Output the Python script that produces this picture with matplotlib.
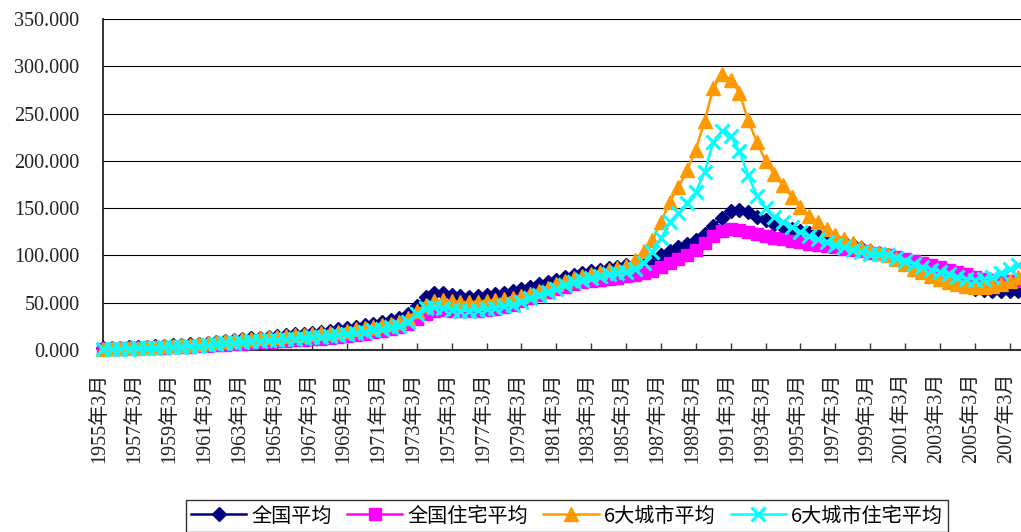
import matplotlib
matplotlib.use("Agg")
import matplotlib.pyplot as plt
import matplotlib.transforms as mtransforms
import numpy as np

plt.rcParams['font.family'] = ['Liberation Serif', 'Noto Sans CJK SC', 'DejaVu Sans']

# Half-yearly observations (March / September), 1955-03 .. 2007-09
years = list(range(1955, 2008))
categories = [f"{y}年{m}月" for y in years for m in (3, 9)]

national_avg = [
    2.0, 2.3, 2.6, 3.0, 3.3, 3.7, 4.0, 4.4, 4.8, 5.3,
    5.9, 6.6, 7.5, 8.5, 9.5, 10.5, 11.4, 12.3, 13.2, 14.2,
    15.0, 15.8, 16.6, 17.4, 18.3, 19.3, 20.5, 21.7, 23.0, 24.5,
    26.2, 28.0, 29.8, 31.6, 33.8, 38.0, 47.0, 56.0, 60.5, 60.5,
    58.5, 57.0, 56.5, 57.0, 58.0, 59.0, 60.5, 62.5, 64.5, 67.0,
    69.5, 72.0, 74.5, 77.0, 79.5, 81.5, 83.5, 85.0, 86.5, 88.0,
    89.5, 91.0, 93.0, 96.0, 100.5, 105.0, 109.0, 112.5, 116.5, 122.5,
    131.0, 140.0, 146.5, 148.5, 146.0, 141.0, 137.0, 133.5, 130.5, 128.0,
    126.0, 124.0, 122.0, 119.5, 117.0, 114.0, 111.0, 108.0, 105.0, 102.5,
    100.0, 97.5, 94.5, 91.0, 87.5, 83.5, 79.5, 75.5, 71.5, 68.0,
    65.0, 63.5, 62.5, 62.0, 62.0, 62.5,
]

national_residential = [
    1.0, 1.2, 1.4, 1.6, 1.8, 2.0, 2.2, 2.5, 2.8, 3.1,
    3.5, 3.9, 4.4, 5.0, 5.6, 6.2, 6.8, 7.4, 8.0, 8.6,
    9.2, 9.7, 10.2, 10.8, 11.4, 12.1, 12.9, 13.8, 14.8, 16.0,
    17.3, 18.8, 20.4, 22.0, 24.0, 27.5, 33.0, 38.5, 41.5, 42.0,
    41.5, 41.0, 41.0, 41.5, 42.5, 43.5, 45.5, 48.0, 51.5, 55.0,
    58.5, 61.5, 64.5, 67.0, 69.5, 71.5, 73.0, 74.5, 75.5, 76.5,
    78.0, 79.5, 81.5, 84.0, 87.5, 92.0, 96.5, 100.5, 105.5, 113.0,
    120.5, 125.5, 127.5, 127.0, 125.0, 122.5, 120.5, 118.5, 117.0, 115.5,
    114.0, 112.5, 111.0, 109.5, 108.5, 107.0, 106.0, 104.5, 103.0, 101.5,
    100.0, 98.5, 96.5, 94.5, 92.5, 90.0, 87.5, 85.0, 82.5, 80.0,
    77.5, 75.5, 74.0, 73.0, 72.5, 72.5,
]

six_cities_avg = [
    1.3, 1.6, 1.9, 2.2, 2.6, 3.0, 3.4, 3.9, 4.4, 5.0,
    5.7, 6.5, 7.4, 8.4, 9.4, 10.4, 11.3, 12.1, 12.9, 13.6,
    14.2, 14.8, 15.4, 16.0, 16.7, 17.5, 18.4, 19.4, 20.5, 21.7,
    23.0, 24.5, 26.0, 27.6, 29.5, 33.5, 41.0, 48.0, 52.0, 52.5,
    51.5, 50.5, 50.5, 51.0, 51.5, 52.5, 53.5, 55.0, 57.0, 59.5,
    62.5, 66.0, 69.5, 73.0, 76.0, 78.5, 80.5, 82.5, 84.5, 86.5,
    89.0, 95.5, 104.5, 116.0, 135.0, 157.0, 172.0, 190.0, 212.0, 242.0,
    277.0, 292.0, 286.0, 272.0, 243.0, 220.0, 200.0, 186.0, 174.0, 162.0,
    151.0, 142.0, 135.0, 128.0, 122.0, 117.0, 113.0, 109.0, 105.5, 102.5,
    100.0, 96.0, 91.0, 86.0, 82.0, 78.0, 75.0, 72.0, 69.5, 68.0,
    67.0, 67.0, 68.0, 70.0, 73.0, 77.0,
]

six_cities_residential = [
    0.8, 1.0, 1.2, 1.5, 1.8, 2.1, 2.4, 2.8, 3.2, 3.6,
    4.1, 4.7, 5.4, 6.1, 6.9, 7.7, 8.5, 9.2, 9.9, 10.5,
    11.1, 11.6, 12.1, 12.7, 13.3, 14.0, 14.8, 15.7, 16.8, 18.0,
    19.4, 20.9, 22.4, 23.8, 25.5, 30.0, 38.5, 44.0, 45.0, 44.0,
    42.5, 41.5, 41.5, 42.0, 43.0, 44.5, 46.0, 48.0, 51.0, 54.5,
    58.0, 61.5, 65.0, 68.5, 71.5, 74.0, 76.0, 78.0, 80.0, 81.5,
    83.0, 86.0, 92.0, 104.0, 118.0, 135.0, 145.0, 155.0, 167.0, 188.0,
    220.0, 232.0, 226.0, 210.0, 185.0, 163.0, 150.0, 141.0, 135.0, 130.0,
    125.0, 121.0, 117.0, 114.0, 111.0, 108.5, 106.0, 104.0, 102.0, 101.0,
    100.0, 97.0, 94.0, 91.0, 88.0, 85.0, 83.0, 80.0, 77.5, 75.5,
    74.5, 75.0, 77.0, 81.0, 86.0, 90.0,
]

series = [
    ("全国平均", national_avg, "#000080", "D", 7.5),
    ("全国住宅平均", national_residential, "#FF00FF", "s", 8.5),
    ("6大城市平均", six_cities_avg, "#FF9900", "^", 10.5),
    ("6大城市住宅平均", six_cities_residential, "#00FFFF", "x", 10.0),
]

fig = plt.figure(figsize=(10.21, 5.32), dpi=100)
ax = fig.add_axes([103 / 1021, (532 - 350) / 532, (1021 - 103) / 1021, (350 - 19) / 532])

x = np.arange(len(categories))
for name, vals, color, marker, ms in series:
    mew = 2.2 if marker == "x" else 1.0
    ax.plot(x, vals, color=color, lw=1.8, marker=marker, markersize=ms,
            markerfacecolor=color, markeredgecolor=color, markeredgewidth=mew,
            label=name, clip_on=False, zorder=3)

ax.set_ylim(0, 350)
ax.set_xlim(0, 105.3)
ax.set_yticks(np.arange(0, 351, 50))
ax.set_yticklabels([f"{v:.3f}" for v in np.arange(0, 351, 50)])
for v in np.arange(50, 351, 50):
    ax.axhline(v, color="black", lw=0.8, zorder=0)

tick_idx = list(range(0, len(categories), 4))
ax.set_xticks(tick_idx)
ax.set_xticklabels([categories[i] for i in tick_idx], rotation=90, va="top", ha="center")

ax.tick_params(axis="y", length=0, pad=17, labelsize=14.5, colors="#222222")
ax.tick_params(axis="x", direction="in", length=5, width=1, color="#333333",
               pad=16, labelsize=14.5, labelcolor="#222222")
offset = mtransforms.ScaledTranslation(-3 / 100, 0, fig.dpi_scale_trans)
for lbl in ax.get_xticklabels():
    lbl.set_transform(lbl.get_transform() + offset)

for side in ("top", "right"):
    ax.spines[side].set_visible(False)
ax.spines["left"].set_color("#222222")
ax.spines["left"].set_linewidth(1.3)
ax.spines["bottom"].set_color("#333333")
ax.spines["bottom"].set_linewidth(1.5)

leg = fig.legend(loc="center", bbox_to_anchor=(567 / 1021, 1 - 516 / 532), ncol=4,
                 handlelength=2.75, handletextpad=0.25,
                 columnspacing=0.75, borderpad=0.25, frameon=True, fancybox=False,
                 prop={"family": ["Noto Sans CJK SC", "DejaVu Sans"], "size": 14.5})
leg.get_frame().set_edgecolor("black")
leg.get_frame().set_linewidth(1.0)

fig.savefig("out.png", dpi=100)
